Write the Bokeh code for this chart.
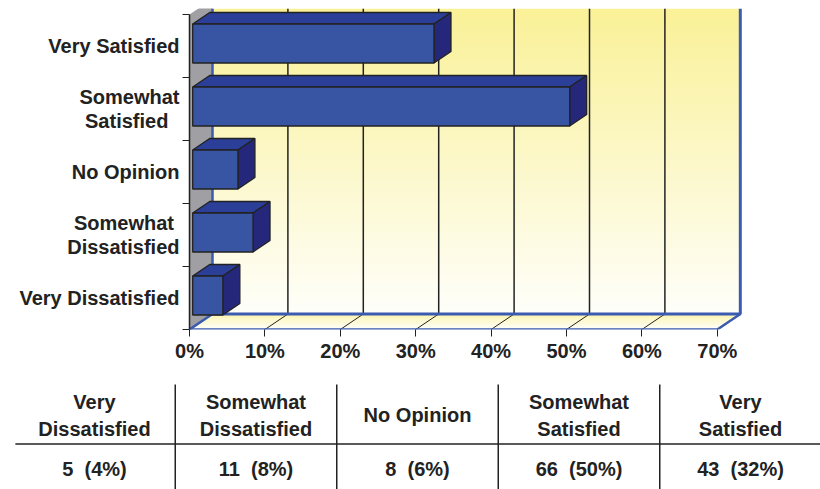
import numpy as np
from bokeh.plotting import figure
from bokeh.layouts import column, row
from bokeh.models import FixedTicker, Range1d
from bokeh.core.properties import value
from bokeh.embed import file_html
from bokeh.resources import INLINE

# ---- data
categories = ["Very Dissatisfied", "Somewhat\u00a0\nDissatisfied", "No Opinion", "Somewhat\nSatisfied\u00a0\u00a0", "Very Satisfied"]
percents = [4, 8, 6, 50, 32]
counts = [5, 11, 8, 66, 43]
table_heads = ["Very\nDissatisfied", "Somewhat\nDissatisfied", "No Opinion", "Somewhat\nSatisfied", "Very\nSatisfied"]
x_ticks = [0, 10, 20, 30, 40, 50, 60, 70]

FONT = "Liberation Sans"
INK = "#222222"
BLUE = "#3A5BAF"
FS = "20px"

W, H1, H2 = 820, 380, 109
PX_X = 7.54   # px per percent
PX_Y = 63.0   # px per category
LEFT = 189
TOP = 8
FRAME_H = 321
BOTTOM = H1 - FRAME_H - TOP

x_end = (W - LEFT) / PX_X
y_end = FRAME_H / PX_Y
DX = 23 / PX_X      # wall depth
DY = 15.5 / PX_Y
BDX = 17 / PX_X     # bar depth
BDY = 11.5 / PX_Y
B0 = 3.2 / PX_X     # bar start
BH = 39 / PX_Y      # bar height
XR = 70

p = figure(width=W, height=H1, output_backend="svg", toolbar_location=None,
           x_range=Range1d(0, x_end), y_range=Range1d(0, y_end),
           min_border_left=LEFT, min_border_right=0, min_border_top=TOP, min_border_bottom=int(BOTTOM))
p.outline_line_color = None
p.grid.visible = False
p.background_fill_color = "white"

# back wall gradient
n = 80
edges = np.linspace(DY, y_end, n + 1)
c_top = np.array([250, 241, 152])
c_bot = np.array([255, 255, 250])
for i in range(n):
    t = i / (n - 1)
    c = c_bot + (c_top - c_bot) * t
    p.quad(left=DX, right=XR + DX, bottom=edges[i], top=min(edges[i + 1] + 0.02, y_end),
           fill_color="#%02x%02x%02x" % tuple(int(v) for v in c), line_color=None)

# floor gradient
m = 16
fe = np.linspace(0, DY, m + 1)
f_back = np.array([252, 245, 175])
f_front = np.array([255, 255, 252])
for i in range(m):
    t = i / (m - 1)
    c = f_front + (f_back - f_front) * t
    y0, y1 = fe[i], min(fe[i + 1] + 0.01, DY)
    sh0, sh1 = y0 / DY * DX, y1 / DY * DX
    p.patch([sh0, XR + sh0, XR + sh1, sh1], [y0, y0, y1, y1],
            fill_color="#%02x%02x%02x" % tuple(int(v) for v in c), line_color=None)

# left wall
p.patch([0, DX, DX, 0], [0, DY, 5 + DY, 5], fill_color="#A0A0A4", line_color=None)

# grid
for t in x_ticks[1:-1]:
    p.line([t, t + DX], [0, DY], line_color=INK, line_width=1)
    p.line([t + DX, t + DX], [DY, y_end], line_color=INK, line_width=1.5)

# blue frame lines
p.line([DX, DX], [DY, y_end], line_color=BLUE, line_width=2.5)
p.line([0, DX], [0, DY], line_color=BLUE, line_width=2.5)
p.line([DX, XR + DX, XR + DX], [DY, DY, y_end], line_color=BLUE, line_width=3)
p.line([0, XR, XR + DX], [0, 0, DY], line_color=BLUE, line_width=2.5)

# bars
centers = np.arange(len(percents)) + 0.5 + 2.5 / PX_Y
pv = np.array(percents, dtype=float)
x0, x1 = B0 + 0 * pv, B0 + pv
y0, y1 = centers - BH / 2, centers + BH / 2
for a, b, c, d in zip(x0, x1, y0, y1):
    p.patch([a, a + BDX, b + BDX, b], [d, d + BDY, d + BDY, d],
            fill_color="#2B3E98", line_color=INK, line_width=1.3)
    p.patch([b, b + BDX, b + BDX, b], [c, c + BDY, d + BDY, d],
            fill_color="#25287A", line_color=INK, line_width=1.3)
p.quad(left=x0, right=x1, bottom=y0, top=y1, fill_color="#3855A3", line_color=INK, line_width=1.3)

# axes
xa = p.xaxis[0]
xa.ticker = FixedTicker(ticks=x_ticks)
xa.major_label_overrides = {t: f"{t}%" for t in x_ticks}
xa.bounds = (0, 70)
xa.axis_line_color = None
xa.major_tick_line_color = INK
xa.major_tick_line_width = 1
xa.major_tick_in = 0
xa.major_tick_out = 7
xa.minor_tick_line_color = None
xa.major_label_standoff = 3
xa.major_label_text_font = FONT
xa.major_label_text_font_style = "bold"
xa.major_label_text_font_size = FS
xa.major_label_text_color = INK

ya = p.yaxis[0]
label_pos = [float(i) + 0.5 for i in range(5)]
ya.ticker = FixedTicker(ticks=label_pos, minor_ticks=[0, 1, 2, 3, 4, 5])
ya.major_label_overrides = {float(i) + 0.5: categories[i] for i in range(5)}
ya.bounds = (0, 5)
ya.axis_line_color = INK
ya.axis_line_width = 1.5
ya.major_tick_line_color = None
ya.major_tick_in = 0
ya.major_tick_out = 0
ya.minor_tick_line_color = INK
ya.minor_tick_line_width = 1
ya.minor_tick_in = 0
ya.minor_tick_out = 7
ya.major_label_standoff = 3
ya.major_label_text_font = FONT
ya.major_label_text_font_style = "bold"
ya.major_label_text_font_size = FS
ya.major_label_text_color = INK
ya.major_label_text_line_height = 1.05

# ---- table
COL = 161.5
t0 = (0 - 94) / COL
t1 = t0 + W / COL
q = figure(width=W, height=H2, output_backend="svg", toolbar_location=None,
           x_range=Range1d(t0, t1), y_range=Range1d(H2, 0),
           min_border=0, x_axis_location=None, y_axis_location=None)
q.outline_line_color = None
q.grid.visible = False
VOFF = H1
for i in range(4):
    q.line([i + 0.5, i + 0.5], [384 - VOFF, H2], line_color=INK, line_width=1.5)
q.line([-0.49, t1], [443.5 - VOFF, 443.5 - VOFF], line_color=INK, line_width=1.5)

hx, hy, ht = [], [], []
for i, h in enumerate(table_heads):
    parts = h.split("\n")
    if len(parts) == 2:
        hx += [i, i]; hy += [401 - VOFF, 428 - VOFF]; ht += parts
    else:
        hx.append(i); hy.append(414 - VOFF); ht.append(parts[0])
q.text(hx, hy, text=ht, text_align="center", text_baseline="middle", text_font=value(FONT),
       text_font_style="bold", text_font_size=value(FS), text_color=INK)
q.text(list(range(5)), [468 - VOFF] * 5,
       text=[f"{c}\u00a0\u00a0({v}%)" for c, v in zip(counts, percents)],
       text_align="center", text_baseline="middle", text_font=value(FONT),
       text_font_style="bold", text_font_size=value(FS), text_color=INK)

layout = column(p, row(q), spacing=0)
open("out.html", "w").write(file_html(layout, INLINE))
